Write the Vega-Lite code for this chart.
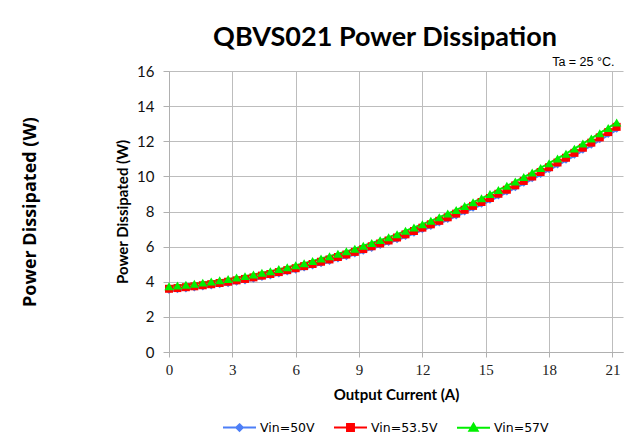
{
  "$schema": "https://vega.github.io/schema/vega-lite/v6.json",
  "width": 454,
  "height": 281,
  "autosize": {"type": "none"},
  "padding": {"left": 169, "top": 71, "right": 14, "bottom": 96},
  "background": "white",
  "title": {"text": "QBVS021 Power Dissipation", "font": "Lato", "fontSize": 27, "fontWeight": "bold", "color": "black", "anchor": "middle", "dx": -11, "dy": 27, "offset": 9, "baseline": "alphabetic"},
  "data": {"values": [
    {"I":0,"v50":3.47,"v535":3.60,"v57":3.74},
    {"I":0.4,"v50":3.51,"v535":3.64,"v57":3.78},
    {"I":0.8,"v50":3.56,"v535":3.69,"v57":3.83},
    {"I":1.2,"v50":3.61,"v535":3.74,"v57":3.89},
    {"I":1.6,"v50":3.67,"v535":3.80,"v57":3.95},
    {"I":2.0,"v50":3.73,"v535":3.86,"v57":4.01},
    {"I":2.4,"v50":3.80,"v535":3.93,"v57":4.08},
    {"I":2.8,"v50":3.86,"v535":4.00,"v57":4.15},
    {"I":3.2,"v50":3.94,"v535":4.08,"v57":4.24},
    {"I":3.6,"v50":4.02,"v535":4.16,"v57":4.32},
    {"I":4.0,"v50":4.11,"v535":4.25,"v57":4.41},
    {"I":4.4,"v50":4.21,"v535":4.35,"v57":4.51},
    {"I":4.8,"v50":4.30,"v535":4.44,"v57":4.60},
    {"I":5.2,"v50":4.41,"v535":4.55,"v57":4.72},
    {"I":5.6,"v50":4.52,"v535":4.66,"v57":4.83},
    {"I":6.0,"v50":4.63,"v535":4.77,"v57":4.94},
    {"I":6.4,"v50":4.75,"v535":4.89,"v57":5.06},
    {"I":6.8,"v50":4.87,"v535":5.01,"v57":5.18},
    {"I":7.2,"v50":5.00,"v535":5.14,"v57":5.32},
    {"I":7.6,"v50":5.13,"v535":5.27,"v57":5.45},
    {"I":8.0,"v50":5.26,"v535":5.41,"v57":5.59},
    {"I":8.4,"v50":5.40,"v535":5.55,"v57":5.73},
    {"I":8.8,"v50":5.55,"v535":5.70,"v57":5.88},
    {"I":9.2,"v50":5.71,"v535":5.86,"v57":6.05},
    {"I":9.6,"v50":5.87,"v535":6.02,"v57":6.21},
    {"I":10.0,"v50":6.03,"v535":6.18,"v57":6.37},
    {"I":10.4,"v50":6.20,"v535":6.35,"v57":6.54},
    {"I":10.8,"v50":6.37,"v535":6.52,"v57":6.71},
    {"I":11.2,"v50":6.55,"v535":6.70,"v57":6.90},
    {"I":11.6,"v50":6.74,"v535":6.89,"v57":7.09},
    {"I":12.0,"v50":6.93,"v535":7.08,"v57":7.28},
    {"I":12.4,"v50":7.12,"v535":7.27,"v57":7.47},
    {"I":12.8,"v50":7.31,"v535":7.47,"v57":7.67},
    {"I":13.2,"v50":7.51,"v535":7.67,"v57":7.88},
    {"I":13.6,"v50":7.72,"v535":7.88,"v57":8.09},
    {"I":14.0,"v50":7.94,"v535":8.10,"v57":8.31},
    {"I":14.4,"v50":8.16,"v535":8.32,"v57":8.53},
    {"I":14.8,"v50":8.38,"v535":8.54,"v57":8.75},
    {"I":15.2,"v50":8.61,"v535":8.77,"v57":8.99},
    {"I":15.6,"v50":8.85,"v535":9.01,"v57":9.23},
    {"I":16.0,"v50":9.08,"v535":9.24,"v57":9.46},
    {"I":16.4,"v50":9.33,"v535":9.49,"v57":9.71},
    {"I":16.8,"v50":9.58,"v535":9.74,"v57":9.96},
    {"I":17.2,"v50":9.83,"v535":9.99,"v57":10.22},
    {"I":17.6,"v50":10.08,"v535":10.25,"v57":10.48},
    {"I":18.0,"v50":10.35,"v535":10.52,"v57":10.75},
    {"I":18.4,"v50":10.62,"v535":10.79,"v57":11.02},
    {"I":18.8,"v50":10.89,"v535":11.06,"v57":11.29},
    {"I":19.2,"v50":11.17,"v535":11.34,"v57":11.58},
    {"I":19.6,"v50":11.46,"v535":11.63,"v57":11.87},
    {"I":20.0,"v50":11.75,"v535":11.92,"v57":12.16},
    {"I":20.4,"v50":12.05,"v535":12.22,"v57":12.46},
    {"I":20.8,"v50":12.35,"v535":12.52,"v57":12.76},
    {"I":21.2,"v50":12.65,"v535":12.82,"v57":13.07}
  ]},
  "transform": [{"fold": ["v50", "v535", "v57"], "as": ["s", "P"]}],
  "layer": [
    {
      "mark": {"type": "line", "strokeWidth": 2},
      "encoding": {
        "x": {"field": "I", "type": "quantitative", "scale": {"domain": [0, 21.5], "nice": false, "zero": false},
          "axis": {"orient": "bottom", "values": [0,3,6,9,12,15,18,21], "grid": true, "gridColor": "#bdbdbd", "gridWidth": 1, "domainColor": "#b0b0b0", "tickColor": "#b0b0b0", "tickSize": 5, "labelFont": "Liberation Serif", "labelFontSize": 15, "labelColor": "#222222", "labelPadding": 5, "labelFlush": false, "labelOverlap": false, "title": "Output Current (A)", "titleFont": "Lato", "titleFontSize": 15, "titleFontWeight": "bold", "titleColor": "black", "titleY": 47, "titleBaseline": "alphabetic"}},
        "y": {"field": "P", "type": "quantitative", "scale": {"domain": [0, 16], "nice": false},
          "axis": {"orient": "left", "values": [0,2,4,6,8,10,12,14,16], "grid": true, "gridColor": "#bdbdbd", "gridWidth": 1, "domainColor": "#b0b0b0", "tickColor": "#b0b0b0", "tickSize": 6, "labelFont": "Lato", "labelFontSize": 15, "labelColor": "#111111", "labelPadding": 9, "labelFlush": false, "labelOverlap": false, "title": "Power Dissipated (W)", "titleFont": "Lato", "titleFontSize": 15, "titleFontWeight": "bold", "titleColor": "black", "titleX": -47, "titleY": 140.5, "titleAngle": -90, "titleAlign": "center", "titleBaseline": "middle"}},
        "color": {"field": "s", "type": "nominal",
          "scale": {"domain": ["v50", "v535", "v57"], "range": ["#4d7ff7", "#ff0000", "#00f000"]},
          "legend": {"orient": "none", "legendX": 53, "legendY": 339, "direction": "horizontal", "title": null,
            "labelFont": "DejaVu Sans", "labelFontSize": 12.5, "labelColor": "black", "symbolSize": 1089, "symbolStrokeWidth": 2, "labelOffset": 3, "columnPadding": 15,
            "symbolType": {"expr": "datum.value === 'v50' ? 'M-1,0H1M0,-0.2L0.2,0L0,0.2L-0.2,0Z' : datum.value === 'v535' ? 'M-1,0H1M-0.21,-0.21H0.21V0.21H-0.21Z' : 'M-1,0H1M0,-0.25L0.25,0.17H-0.25Z'"},
            "symbolFillColor": {"expr": "scale('color', datum.value)"},
            "labelExpr": "{'v50': 'Vin=50V', 'v535': 'Vin=53.5V', 'v57': 'Vin=57V'}[datum.value]"}},
        "detail": {"field": "s"}
      }
    },
    {
      "transform": [{"filter": {"field": "s", "equal": "v50"}}],
      "mark": {"type": "point", "filled": true, "opacity": 1, "shape": "diamond", "size": 36, "color": "#4d7ff7"},
      "encoding": {
        "x": {"field": "I", "type": "quantitative",
          "axis": {"orient": "top", "domain": false, "ticks": false, "labels": false, "grid": false, "title": "Ta = 25 °C.", "titleFont": "Liberation Sans", "titleFontSize": 12.5, "titleFontWeight": "normal", "titleColor": "black", "titleX": 445, "titleY": -6, "titleAlign": "right", "titleBaseline": "alphabetic"}},
        "y": {"field": "P", "type": "quantitative",
          "axis": {"orient": "left", "domain": false, "ticks": false, "labels": false, "grid": false, "title": "Power Dissipated  (W)", "titleFont": "Open Sans", "titleFontSize": 18, "titleFontWeight": "bold", "titleColor": "black", "titleX": -139, "titleY": 140.5, "titleAngle": -90, "titleAlign": "center", "titleBaseline": "middle"}}
      }
    },
    {
      "transform": [{"filter": {"field": "s", "equal": "v535"}}],
      "mark": {"type": "point", "filled": true, "opacity": 1, "shape": "square", "size": 64, "color": "#ff0000"},
      "encoding": {
        "x": {"field": "I", "type": "quantitative", "axis": null},
        "y": {"field": "P", "type": "quantitative", "axis": null}
      }
    },
    {
      "transform": [{"filter": {"field": "s", "equal": "v57"}}],
      "mark": {"type": "point", "filled": true, "opacity": 1, "shape": "triangle-up", "size": 85, "color": "#00f000"},
      "encoding": {
        "x": {"field": "I", "type": "quantitative", "axis": null},
        "y": {"field": "P", "type": "quantitative", "axis": null}
      }
    }
  ],
  "resolve": {"axis": {"x": "independent", "y": "independent"}},
  "config": {"view": {"stroke": null}}
}
